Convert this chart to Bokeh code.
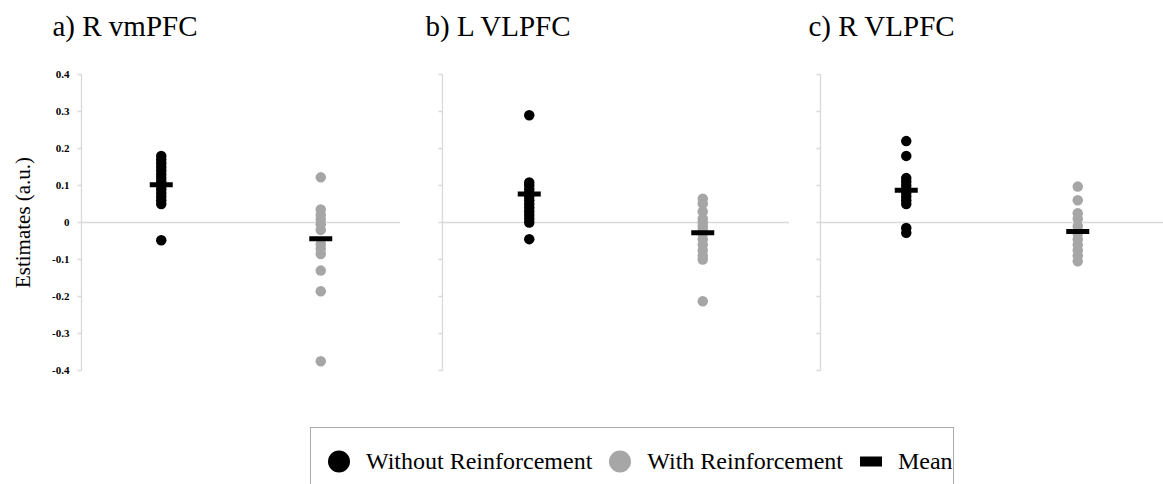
from bokeh.plotting import figure
from bokeh.layouts import column, row
from bokeh.models import (Range1d, FactorRange, FixedTicker, Span, Legend, LegendItem,
                          Title, LinearAxis)
from bokeh.embed import file_html
from bokeh.resources import INLINE

# ---------------- data ----------------
panel_titles = ["a) R vmPFC", "b) L VLPFC", "c) R VLPFC"]
conditions = ["Without Reinforcement", "With Reinforcement"]
legend_labels = ["Without Reinforcement", "With Reinforcement", "Mean"]

a_without = [0.18, 0.17, 0.16, 0.15, 0.14, 0.13, 0.12, 0.11, 0.10, 0.09, 0.08, 0.07, 0.06, 0.05, -0.048]
a_with = [0.122, 0.035, 0.02, 0.008, -0.005, -0.02, -0.058, -0.071, -0.085, -0.13, -0.186, -0.375]
b_without = [0.29, 0.108, 0.10, 0.09, 0.08, 0.07, 0.06, 0.05, 0.04, 0.03, 0.02, 0.01, 0.0, -0.045]
b_with = [0.064, 0.051, 0.03, 0.01, 0.0, -0.01, -0.02, -0.03, -0.045, -0.06, -0.075, -0.09, -0.10, -0.213]
c_without = [0.22, 0.18, 0.12, 0.11, 0.10, 0.09, 0.08, 0.07, 0.06, 0.05, -0.015, -0.028]
c_with = [0.097, 0.06, 0.025, 0.01, -0.01, -0.03, -0.045, -0.06, -0.075, -0.09, -0.105]
mean_without = [0.102, 0.077, 0.087]
mean_with = [-0.044, -0.028, -0.024]

tick_values = [-0.4, -0.3, -0.2, -0.1, 0, 0.1, 0.2, 0.3, 0.4]
tick_labels = ["-0.4", "-0.3", "-0.2", "-0.1", "0", "0.1", "0.2", "0.3", "0.4"]
y_label = "Estimates (a.u.)"

# ---------------- style ----------------
BLACK = "#000000"
GRAY = "#a6a6a6"
AXIS = "#d9d9d9"
SERIF = "Liberation Serif"
TOP_H = 410
Y_MIN, Y_MAX = -0.4, 0.4


def make_panel(i, without, with_, width, left_border, title_offset, first):
    p = figure(width=width, height=TOP_H,
               x_range=FactorRange(factors=conditions, range_padding=0),
               y_range=Range1d(Y_MIN, Y_MAX),
               x_axis_location=None, toolbar_location=None,
               output_backend="svg",
               min_border_left=left_border, min_border_right=0,
               min_border_top=74, min_border_bottom=TOP_H - 370)
    p.outline_line_color = None
    p.grid.visible = False
    p.background_fill_color = "white"
    p.border_fill_color = "white"

    # white, label-less axis used only as a 33px gap between the frame and the title
    spacer = LinearAxis(ticker=FixedTicker(ticks=[0]), major_tick_out=33, major_tick_in=0,
                        major_label_standoff=0, major_label_text_color=None,
                        axis_line_color=None, major_tick_line_color="white",
                        minor_tick_line_color=None, minor_tick_out=0, minor_tick_in=0)
    p.add_layout(spacer, "above")
    p.add_layout(Title(text=panel_titles[i], text_font=SERIF, text_font_size="29px",
                       text_font_style="normal", text_color=BLACK, align="left",
                       offset=title_offset, vertical_align="bottom", standoff=0),
                 "above")

    p.add_layout(Span(location=0, dimension="width", line_color=AXIS,
                      line_width=1.5, level="underlay"))

    p.scatter(x=[conditions[0]] * len(without), y=without, size=10.5,
              fill_color=BLACK, line_color=None)
    p.scatter(x=[conditions[1]] * len(with_), y=with_, size=10.5,
              fill_color=GRAY, line_color=None)
    p.scatter(x=conditions, y=[mean_without[i], mean_with[i]], marker="dash",
              size=23, line_color=BLACK, line_width=5)

    ax = p.yaxis[0]
    ax.ticker = FixedTicker(ticks=tick_values)
    ax.minor_tick_line_color = None
    ax.axis_line_color = AXIS
    ax.axis_line_width = 1.3
    ax.major_tick_line_color = AXIS
    ax.major_tick_line_width = 1.3
    ax.major_tick_in = 0
    ax.major_tick_out = 4
    if first:
        ax.major_label_overrides = dict(zip(tick_values, tick_labels))
        ax.major_label_text_font = SERIF
        ax.major_label_text_font_style = "bold"
        ax.major_label_text_font_size = "11px"
        ax.major_label_text_color = BLACK
        ax.major_label_standoff = 8
        ax.axis_label = y_label
        ax.axis_label_text_font = SERIF
        ax.axis_label_text_font_style = "normal"
        ax.axis_label_text_font_size = "21px"
        ax.axis_label_text_color = BLACK
        ax.axis_label_standoff = 14
    else:
        ax.major_label_text_color = None
        ax.major_label_standoff = 0
    return p


pa = make_panel(0, a_without, a_with, 400, 81, -29, True)
pb = make_panel(1, b_without, b_with, 389, 42, -17, False)
pc = make_panel(2, c_without, c_with, 374, 31, -12, False)

# ---------------- legend strip ----------------
pl = figure(width=1163, height=484 - TOP_H, x_range=Range1d(0, 1), y_range=Range1d(0, 1),
            x_axis_location=None, y_axis_location=None, toolbar_location=None,
            output_backend="svg", min_border=0)
pl.outline_line_color = None
pl.grid.visible = False
nan = float("nan")
# legend-only renderers: their single point is NaN, so nothing is drawn in the strip
r1 = pl.scatter(x=[nan], y=[nan], fill_color=BLACK, line_color=None)
r2 = pl.scatter(x=[nan], y=[nan], fill_color=GRAY, line_color=None)
r3 = pl.scatter(x=[nan], y=[nan], marker="dash", line_color=BLACK, line_width=10)
legend = Legend(items=[LegendItem(label=legend_labels[0], renderers=[r1]),
                       LegendItem(label=legend_labels[1], renderers=[r2]),
                       LegendItem(label=legend_labels[2], renderers=[r3])],
                orientation="horizontal", location=(310, -11),
                glyph_width=55, glyph_height=66, label_standoff=0, spacing=-2,
                padding=0, margin=0,
                border_line_color="#595959", border_line_width=1.5,
                label_text_font=SERIF, label_text_font_size="24px",
                label_text_color=BLACK, background_fill_color="white")
pl.add_layout(legend)

layout = column(row(pa, pb, pc), pl)
open("out.html", "w").write(file_html(layout, INLINE))
